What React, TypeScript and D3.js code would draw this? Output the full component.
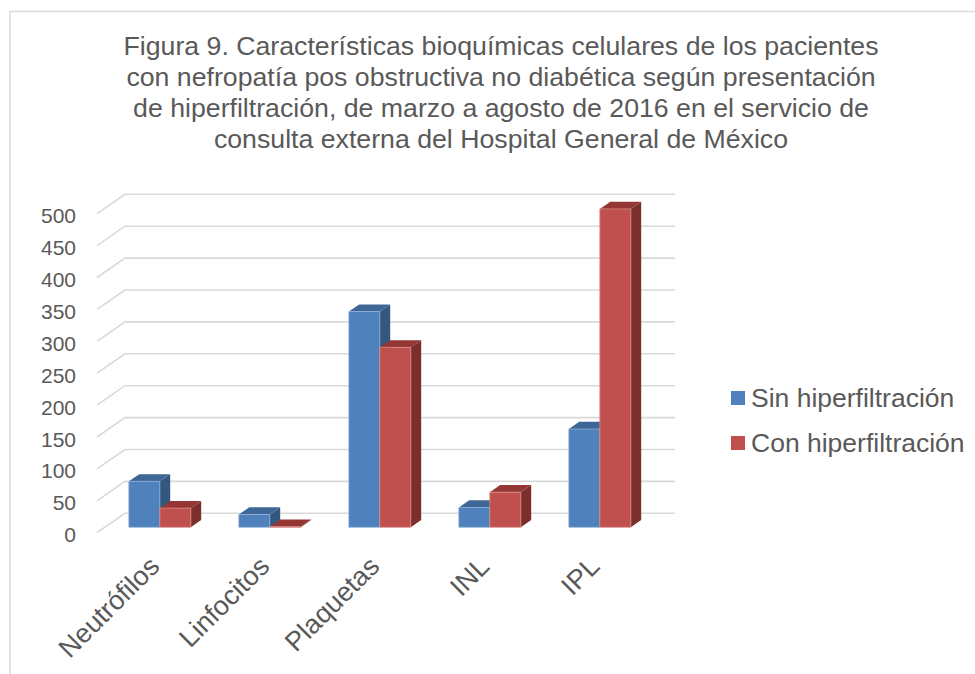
import React from "react";
import * as d3 from "d3";

const categories = ["Neutrófilos", "Linfocitos", "Plaquetas", "INL", "IPL"];
const sinHiper = [72, 20, 338, 31, 154];
const conHiper = [30, 1, 282, 55, 499];
const seriesNames = ["Sin hiperfiltración", "Con hiperfiltración"];
const yTicks = [0, 50, 100, 150, 200, 250, 300, 350, 400, 450, 500];
const titleLines = [
  "Figura 9. Características bioquímicas celulares de los pacientes",
  "con nefropatía pos obstructiva no diabética según presentación",
  "de hiperfiltración, de marzo a agosto de 2016 en el servicio de",
  "consulta externa del Hospital General de México",
];

const W = 975;
const H = 674;
const DX = 28;
const DY = 19.4;
const Z0 = 0.28;
const Z1 = 0.65;
const FONT = "'Liberation Sans', Arial, sans-serif";
const TEXT = "#595959";
const GRID = "#d9d9d9";

const colors = [
  { front: "#4F81BD", top: "#3E6696", side: "#34577F", edge: "#8fb0d8" },
  { front: "#C0504D", top: "#943634", side: "#7B2F2D", edge: "#d98a88" },
];

export default function App() {
  const x = d3.scaleBand<string>().domain(categories).range([97, 647]);
  const y = d3.scaleLinear().domain([0, 500]).range([532.7, 213.7]);
  const proj = (px: number, v: number, z: number): [number, number] => [px + z * DX, y(v) - z * DY];
  const pts = (arr: [number, number][]) => arr.map((p) => p.join(",")).join(" ");

  const bw = x.bandwidth();
  const barW = bw / (2 + 1.55);
  const off = (bw - 2 * barW) / 2;
  const data = [sinHiper, conHiper];

  const xL = 97;
  const xR = 647;

  return (
    <svg width={W} height={H} style={{ position: "absolute", left: 0, top: 0, background: "#fff" }} fontFamily={FONT}>
      <rect x={0} y={0} width={W} height={H} fill="#fff" />
      <line x1={9.5} y1={11.5} x2={975} y2={11.5} stroke={GRID} strokeWidth={1.5} />
      <line x1={10} y1={11} x2={10} y2={674} stroke={GRID} strokeWidth={1.5} />

      {titleLines.map((t, i) => (
        <text key={i} x={501} y={55 + i * 31} textAnchor="middle" fontSize={26.7} fill={TEXT}>
          {t}
        </text>
      ))}

      {yTicks.map((t) => {
        const a = proj(xL, t, 0);
        const b = proj(xL, t, 1);
        const c = proj(xR, t, 1);
        return (
          <g key={t}>
            <polyline points={pts([a, b, c])} fill="none" stroke={GRID} strokeWidth={1.6} />
            <text x={76} y={y(t) + 9.5} textAnchor="end" fontSize={21} fill={TEXT}>
              {t}
            </text>
          </g>
        );
      })}

      {categories.map((cat, i) => (
        <g key={cat}>
          {data.map((series, s) => {
            const v = series[i];
            const x0 = (x(cat) as number) + off + s * barW;
            const x1 = x0 + barW;
            const col = colors[s];
            const front = pts([proj(x0, 0, Z0), proj(x1, 0, Z0), proj(x1, v, Z0), proj(x0, v, Z0)]);
            const top = pts([proj(x0, v, Z0), proj(x1, v, Z0), proj(x1, v, Z1), proj(x0, v, Z1)]);
            const side = pts([proj(x1, 0, Z0), proj(x1, v, Z0), proj(x1, v, Z1), proj(x1, 0, Z1)]);
            return (
              <g key={s}>
                <polygon points={side} fill={col.side} />
                <polygon points={top} fill={col.top} />
                <polygon points={front} fill={col.front} stroke={col.edge} strokeWidth={0.8} />
              </g>
            );
          })}
        </g>
      ))}

      {categories.map((cat) => {
        const cx = (x(cat) as number) + bw / 2 + 9;
        const cy = 568;
        return (
          <text
            key={cat}
            transform={`translate(${cx},${cy}) rotate(-45)`}
            textAnchor="end"
            fontSize={27}
            fill={TEXT}
          >
            {cat}
          </text>
        );
      })}

      {seriesNames.map((n, s) => (
        <g key={n}>
          <rect x={731} y={391 + s * 45} width={14} height={14} fill={colors[s].front} />
          <text x={751} y={398 + s * 45 + 9} fontSize={26.5} fill={TEXT}>
            {n}
          </text>
        </g>
      ))}
    </svg>
  );
}
